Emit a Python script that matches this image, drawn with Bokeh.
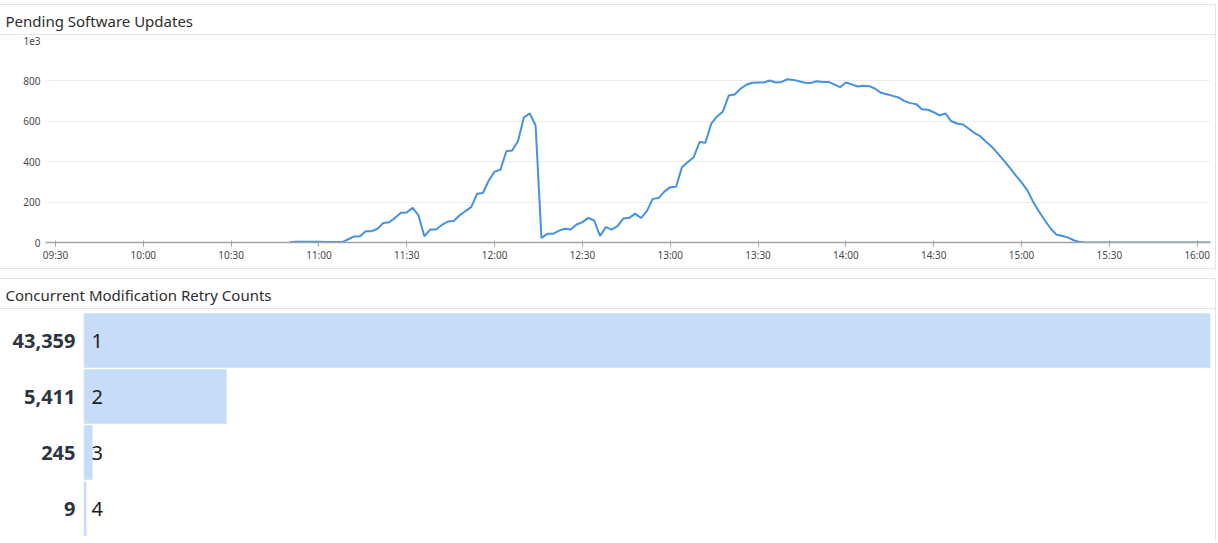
import pandas as pd
from bokeh.plotting import figure
from bokeh.layouts import column
from bokeh.models import (Range1d, FactorRange, FixedTicker, DatetimeTickFormatter,
                          InlineStyleSheet, ColumnDataSource)
from bokeh.core.properties import value
from bokeh.embed import file_html
from bokeh.resources import INLINE

# ---------------- data ----------------
line_title = "Pending Software Updates"
bar_title = "Concurrent Modification Retry Counts"

day = "2024-01-01"
series_start = "10:50"          # first sample, 2-minute samples
sample_step = "2min"
pending_updates = [
    1, 4, 4, 4, 4, 4, 3, 3, 3, 2,                 # 10:50 - 11:08
    16, 30, 31, 56, 56, 68, 97, 100, 122, 147,    # 11:10 - 11:28
    149, 172, 134, 31, 64, 64, 87, 104, 106, 134, # 11:30 - 11:48
    155, 175, 241, 245, 307, 351, 360, 452, 455, 503,  # 11:50 - 12:08
    619, 639, 579, 23, 43, 43, 59, 68, 64, 89,    # 12:10 - 12:28
    101, 122, 109, 33, 76, 64, 81, 119, 122, 143, # 12:30 - 12:48
    121, 155, 216, 220, 252, 274, 276, 373, 398, 422,  # 12:50 - 13:08
    497, 494, 588, 624, 649, 728, 733, 761, 781, 791,  # 13:10 - 13:28
    792, 792, 802, 792, 795, 808, 805, 798, 791, 790,  # 13:30 - 13:48
    798, 795, 795, 783, 769, 792, 783, 772, 776, 774,  # 13:50 - 14:08
    761, 741, 734, 726, 718, 700, 690, 685, 660, 657,  # 14:10 - 14:28
    645, 629, 639, 600, 589, 584, 563, 541, 525, 497,  # 14:30 - 14:48
    472, 439, 405, 370, 332, 298, 258, 200, 152, 109,  # 14:50 - 15:08
    68, 38, 32, 24, 10, 2, 0, 0, 0, 0,            # 15:10 - 15:28
    0, 0, 0, 0, 0, 0, 0, 0, 0, 0,                 # 15:30 - 15:48
    0, 0, 0, 0, 0, 0, 0, 0, 0,                    # 15:50 - 16:06
]
x_tick_labels = ["09:30", "10:00", "10:30", "11:00", "11:30", "12:00", "12:30",
                 "13:00", "13:30", "14:00", "14:30", "15:00", "15:30", "16:00"]
x_view = ("09:26:35", "16:04:33")
y_tick_values = [0, 200, 400, 600, 800, 1000]
y_tick_labels = ["0", "200", "400", "600", "800", "1e3"]

retry_categories = ["1", "2", "3", "4"]
retry_counts = [43359, 5411, 245, 9]

# ---------------- style ----------------
FONT = "Noto Sans"
BORDER = "#e3e3ea"
LINE_BLUE = "#4592e2"
BAR_BLUE = "#c7dcf8"
INNER_W = 1215


def header(title):
    h = figure(width=INNER_W, height=30, x_range=Range1d(0, 1), y_range=Range1d(0, 1),
               toolbar_location=None, output_backend="svg", min_border=0,
               x_axis_location=None, y_axis_location=None)
    h.grid.visible = False
    h.outline_line_color = None
    h.frame_align = False
    h.text(x=[0], y=[0.5], text=[title], x_offset=5, text_baseline="middle",
           text_align="left", text_font=value(FONT), text_font_size="15px",
           text_color="#2e2e2e")
    h.stylesheets = [InlineStyleSheet(css=f":host {{ border-bottom: 1px solid {BORDER}; }}")]
    return h


# ---------------- line chart ----------------
times = pd.date_range(f"{day} {series_start}", periods=len(pending_updates), freq=sample_step)
src = ColumnDataSource(dict(t=times, v=pending_updates))

x0 = pd.Timestamp(f"{day} {x_view[0]}")
x1 = pd.Timestamp(f"{day} {x_view[1]}")
p1 = figure(width=INNER_W, height=233, x_axis_type="datetime",
            x_range=Range1d(x0, x1), y_range=Range1d(0, 1000),
            toolbar_location=None, output_backend="svg",
            min_border_left=45, min_border_right=5, min_border_top=5, min_border_bottom=26)
p1.frame_align = False
p1.outline_line_color = None
p1.line("t", "v", source=src, line_color=LINE_BLUE, line_width=2)

tick_ms = [pd.Timestamp(f"{day} {t}").value // 10**6 for t in x_tick_labels]
p1.xaxis.ticker = FixedTicker(ticks=tick_ms)
fmt = "%H:%M"
p1.xaxis.formatter = DatetimeTickFormatter(minsec=fmt, minutes=fmt, hourmin=fmt, hours=fmt)
p1.xaxis.axis_line_color = "#a2a4ab"
p1.xaxis.axis_line_width = 1.5
p1.xaxis.major_tick_line_color = "#a2a4ab"
p1.xaxis.major_tick_in = 2
p1.xaxis.major_tick_out = 4
p1.xaxis.minor_tick_line_color = None
p1.xaxis.major_label_standoff = 1
p1.xaxis.major_label_text_font = FONT
p1.xaxis.major_label_text_font_size = "10px"
p1.xaxis.major_label_text_color = "#4a4a4a"

p1.yaxis.ticker = FixedTicker(ticks=y_tick_values)
p1.yaxis.major_label_overrides = {v: l for v, l in zip(y_tick_values, y_tick_labels)}
p1.yaxis.axis_line_color = None
p1.yaxis.major_tick_line_color = None
p1.yaxis.minor_tick_line_color = None
p1.yaxis.major_label_standoff = -1
p1.yaxis.major_label_text_font = FONT
p1.yaxis.major_label_text_font_size = "10px"
p1.yaxis.major_label_text_color = "#4a4a4a"
p1.xgrid.grid_line_color = None
p1.ygrid.grid_line_color = "#ededf0"
p1.ygrid.ticker = FixedTicker(ticks=y_tick_values)

# ---------------- bar chart ----------------
count_labels = [f"{c:,}" for c in retry_counts]
x_start = -0.0024 * max(retry_counts)
bsrc = ColumnDataSource(dict(y=count_labels, right=retry_counts, cat=retry_categories,
                             left=[x_start] * len(retry_counts)))
p2 = figure(width=INNER_W, height=232, y_range=FactorRange(factors=count_labels[::-1]),
            x_range=Range1d(x_start, max(retry_counts)),
            toolbar_location=None, output_backend="svg",
            min_border_left=83, min_border_right=5, min_border_top=3, min_border_bottom=5,
            x_axis_location=None)
p2.frame_align = False
p2.outline_line_color = None
p2.grid.visible = False
p2.hbar(y="y", left="left", right="right", height=0.97, source=bsrc,
        fill_color=BAR_BLUE, line_color=None)
p2.text(x="left", y="y", text="cat", source=bsrc, x_offset=8, text_baseline="middle",
        text_align="left", text_font=value(FONT), text_font_size="20px", text_color="#1b1b1b")
p2.yaxis.axis_line_color = None
p2.yaxis.major_tick_line_color = None
p2.yaxis.minor_tick_line_color = None
p2.yaxis.major_label_standoff = 2
p2.yaxis.major_label_text_font = FONT
p2.yaxis.major_label_text_font_size = "20px"
p2.yaxis.major_label_text_font_style = "bold"
p2.yaxis.major_label_text_color = "#2b3440"

# ---------------- layout ----------------
panel_css = InlineStyleSheet(css=f":host {{ border: 1px solid {BORDER}; }}")
panel2_css = InlineStyleSheet(css=f":host {{ border: 1px solid {BORDER}; border-bottom: none; }}")
panel1 = column(header(line_title), p1, spacing=0, stylesheets=[panel_css])
panel2 = column(header(bar_title), p2, spacing=0, stylesheets=[panel2_css])
root = column(panel1, panel2, spacing=9, margin=(4, 0, 0, -1))

open("out.html", "w").write(file_html(root, INLINE))
